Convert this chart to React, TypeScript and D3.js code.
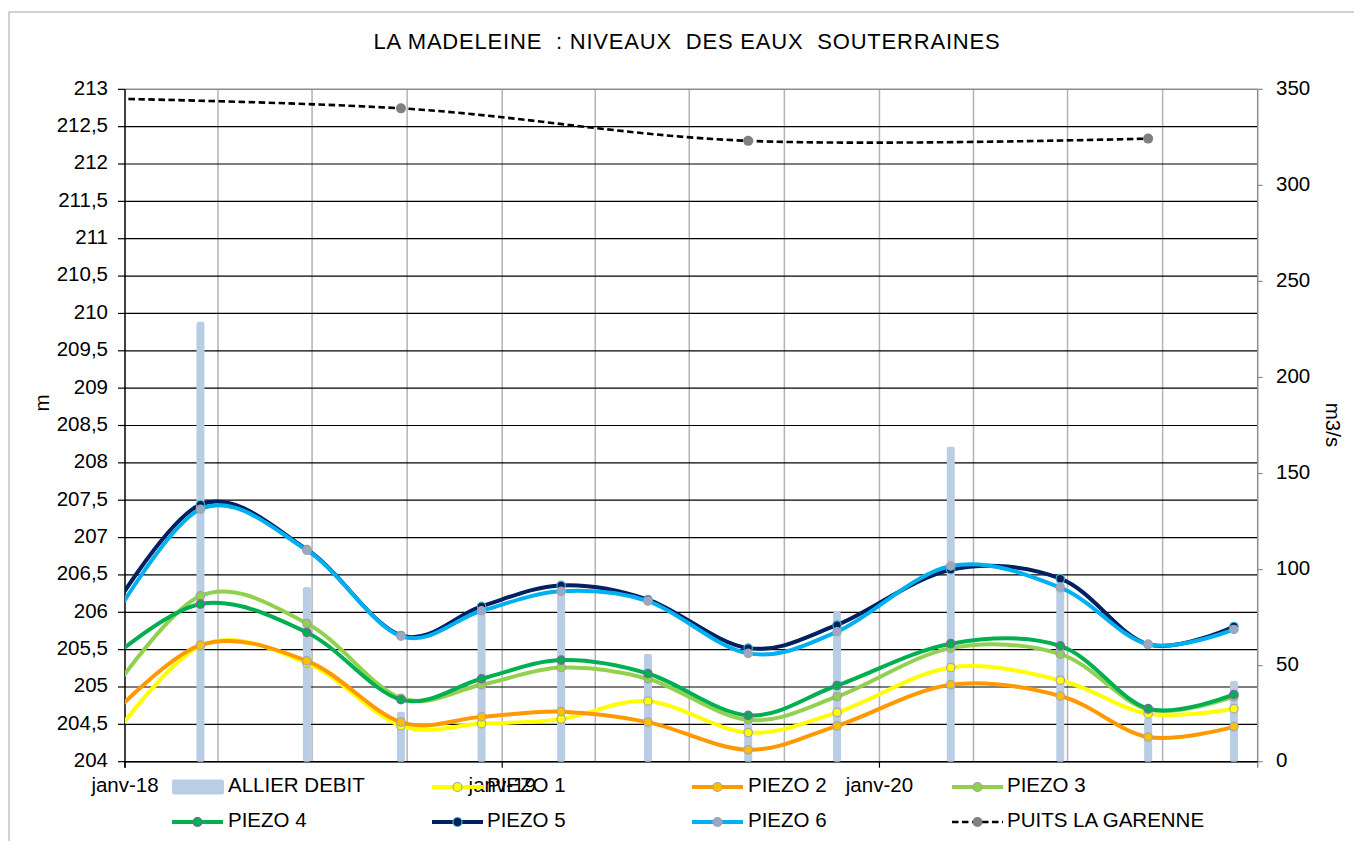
import React from "react";
import * as d3 from "d3";

// ---------- DATA ----------
const measureDates = [
  "2017-12-05", "2018-03-15", "2018-06-26", "2018-09-25", "2018-12-12", "2019-02-27",
  "2019-05-22", "2019-08-27", "2019-11-21", "2020-03-10", "2020-06-24", "2020-09-17", "2020-12-09",
];
const piezo1 = [204.05, 205.55, 205.32, 204.48, 204.51, 204.57, 204.81, 204.39, 204.66, 205.26, 205.09, 204.64, 204.71];
const piezo2 = [204.42, 205.56, 205.35, 204.53, 204.6, 204.67, 204.53, 204.16, 204.48, 205.03, 204.88, 204.33, 204.47];
const piezo3 = [204.65, 206.22, 205.85, 204.85, 205.03, 205.26, 205.11, 204.56, 204.87, 205.52, 205.44, 204.7, 204.87];
const piezo4 = [205.23, 206.11, 205.73, 204.83, 205.11, 205.36, 205.18, 204.62, 205.02, 205.58, 205.55, 204.71, 204.9];
const piezo5 = [205.7, 207.44, 206.84, 205.69, 206.08, 206.36, 206.17, 205.52, 205.83, 206.57, 206.45, 205.57, 205.81];
const piezo6 = [205.55, 207.38, 206.83, 205.68, 206.02, 206.28, 206.15, 205.45, 205.74, 206.62, 206.33, 205.57, 205.77];

const debitDates = [
  "2018-03-15", "2018-06-26", "2018-09-25", "2018-12-12", "2019-02-27", "2019-05-22",
  "2019-08-27", "2019-11-21", "2020-03-10", "2020-06-24", "2020-09-17", "2020-12-09",
];
const allierDebit = [229, 91, 26, 81, 91, 56, 23, 78, 164, 95, 23, 42];

const puitsDates = ["2017-09-20", "2018-09-25", "2019-08-27", "2020-09-17"];
const puitsGarenne = [212.9, 212.745, 212.31, 212.34];

const leftTicks = [204, 204.5, 205, 205.5, 206, 206.5, 207, 207.5, 208, 208.5, 209, 209.5, 210, 210.5, 211, 211.5, 212, 212.5, 213];
const rightTicks = [0, 50, 100, 150, 200, 250, 300, 350];
const xLabelDates = ["2018-01-01", "2019-01-01", "2020-01-01"];
const xLabels = ["janv-18", "janv-19", "janv-20"];

const title = "LA MADELEINE  : NIVEAUX  DES EAUX  SOUTERRAINES";

// ---------- STYLE ----------
const FONT = "'Liberation Sans', Arial, sans-serif";
const L = 125, R = 1257.7, T = 89.3, B = 761.7;
const FS = 20.5;

const series = [
  { name: "PIEZO 1", values: piezo1, stroke: "#ffff00", fill: "#ffff00", mstroke: "#a6a6a6" },
  { name: "PIEZO 2", values: piezo2, stroke: "#ff9900", fill: "#ffc000", mstroke: "#a6a6a6" },
  { name: "PIEZO 3", values: piezo3, stroke: "#92d050", fill: "#92d050", mstroke: "#a0a0a0" },
  { name: "PIEZO 4", values: piezo4, stroke: "#00b050", fill: "#00b050", mstroke: "#8064a2" },
  { name: "PIEZO 5", values: piezo5, stroke: "#002060", fill: "#002060", mstroke: "#4bacc6" },
  { name: "PIEZO 6", values: piezo6, stroke: "#00b0f0", fill: "#98a8c8", mstroke: "#a6a6a6" },
];

const parse = d3.timeParse("%Y-%m-%d");

export default function App() {
  const x = d3.scaleTime().domain([parse("2018-01-01")!, parse("2021-01-01")!]).range([L, R]);
  const yL = d3.scaleLinear().domain([204, 213]).range([B, T]);
  const yR = d3.scaleLinear().domain([0, 350]).range([B, T]);
  const curve = d3.curveCardinal.tension(0);
  const quarterTicks = d3.timeMonth.every(3)!.range(parse("2018-04-01")!, parse("2021-01-01")!);

  const lineGen = (dates: string[]) =>
    d3.line<number>().x((_, i) => x(parse(dates[i])!)).y((v) => yL(v)).curve(curve);

  const fmt = (v: number) => String(v).replace(".", ",");

  const legendRow1Y = 787, legendRow2Y = 822;
  const colSwatch = [172, 432, 692, 952];
  const colText = [228, 487, 748, 1007];

  const legendItems = [
    { kind: "bar" },
    { kind: "line", s: series[0] },
    { kind: "line", s: series[1] },
    { kind: "line", s: series[2] },
    { kind: "line", s: series[3] },
    { kind: "line", s: series[4] },
    { kind: "line", s: series[5] },
    { kind: "puits" },
  ];

  return (
    <svg width={1354} height={841} style={{ position: "absolute", left: 0, top: 0, background: "#fff" }} fontFamily={FONT}>
      <defs>
        <clipPath id="plotclip">
          <rect x={L} y={T - 10} width={R - L} height={B - T + 10} />
        </clipPath>
      </defs>
      {/* chart border */}
      <rect x={9} y={12} width={1400} height={900} fill="none" stroke="#a6a6a6" strokeWidth={1} />

      {/* title */}
      <text x={687} y={49} textAnchor="middle" fontSize={22} letterSpacing={0.8} style={{ whiteSpace: "pre" }}>{title}</text>

      {/* vertical gridlines */}
      {quarterTicks.map((d, i) => (
        <line key={"vg" + i} x1={x(d)} x2={x(d)} y1={T} y2={B} stroke="#b3b3b3" strokeWidth={1.5} />
      ))}
      {/* horizontal gridlines */}
      {leftTicks.map((v, i) => (
        <line key={"hg" + i} x1={L} x2={R} y1={yL(v)} y2={yL(v)} stroke={v === 213 ? "#8c8c8c" : "#000"} strokeWidth={v === 213 ? 1.5 : 1.2} />
      ))}
      {/* right axis line */}
      <line x1={R} x2={R} y1={T} y2={B + 6} stroke="#8c8c8c" strokeWidth={1.5} />
      {rightTicks.map((v, i) => (
        <g key={"rt" + i}>
          <line x1={R} x2={R + 5} y1={yR(v)} y2={yR(v)} stroke="#8c8c8c" strokeWidth={1.2} />
          <text x={1276} y={yR(v)} dominantBaseline="middle" fontSize={FS}>{v}</text>
        </g>
      ))}
      {/* left axis */}
      <line x1={L} x2={L} y1={T} y2={B + 6} stroke="#000" strokeWidth={1.5} />
      {leftTicks.map((v, i) => (
        <g key={"lt" + i}>
          <line x1={L - 7} x2={L} y1={yL(v)} y2={yL(v)} stroke="#000" strokeWidth={1.2} />
          <text x={108} y={yL(v)} dominantBaseline="middle" textAnchor="end" fontSize={FS}>{fmt(v)}</text>
        </g>
      ))}
      {/* bottom axis */}
      <line x1={L} x2={R} y1={B} y2={B} stroke="#000" strokeWidth={1.5} />
      {xLabelDates.map((d, i) => (
        <line key={"bt" + i} x1={x(parse(d)!)} x2={x(parse(d)!)} y1={B} y2={B + 6} stroke="#000" strokeWidth={1.2} />
      ))}

      {/* bars (right axis) */}
      {allierDebit.map((v, i) => {
        const cx = x(parse(debitDates[i])!);
        return <rect key={"b" + i} x={cx - 4} y={yR(v)} width={8} height={B - yR(v)} rx={2} fill="#b9cde5" />;
      })}

      {/* piezo lines */}
      <g clipPath="url(#plotclip)">
        {series.map((s, si) => (
          <g key={"s" + si}>
            <path d={lineGen(measureDates)(s.values) || ""} fill="none" stroke={s.stroke} strokeWidth={4} strokeLinejoin="round" />
            {s.values.map((v, i) => (
              <circle key={i} cx={x(parse(measureDates[i])!)} cy={yL(v)} r={4.2} fill={s.fill} stroke={s.mstroke} strokeWidth={1.2} />
            ))}
          </g>
        ))}
        {/* puits */}
        <path d={lineGen(puitsDates)(puitsGarenne) || ""} fill="none" stroke="#000" strokeWidth={2.6} strokeDasharray="6.5,3.5" />
        {puitsGarenne.map((v, i) => (
          <circle key={"p" + i} cx={x(parse(puitsDates[i])!)} cy={yL(v)} r={5} fill="#808080" />
        ))}
      </g>

      {/* x labels */}
      {xLabelDates.map((d, i) => (
        <text key={"xl" + i} x={x(parse(d)!)} y={legendRow1Y} dominantBaseline="middle" textAnchor="middle" fontSize={FS}>{xLabels[i]}</text>
      ))}

      {/* axis titles */}
      <text transform="translate(49,403) rotate(-90)" textAnchor="middle" fontSize={FS}>m</text>
      <text transform="translate(1326,425) rotate(90)" textAnchor="middle" fontSize={FS}>m3/s</text>

      {/* legend */}
      {legendItems.map((it: any, k) => {
        const row = k < 4 ? 0 : 1;
        const col = k % 4;
        const cy = row === 0 ? legendRow1Y : legendRow2Y;
        const sx = colSwatch[col];
        let sw: React.ReactNode = null;
        let label = "";
        if (it.kind === "bar") {
          sw = <rect x={sx} y={cy - 7.5} width={52} height={15} rx={2} fill="#b9cde5" />;
          label = "ALLIER DEBIT";
        } else if (it.kind === "line") {
          sw = (
            <g>
              <line x1={sx} x2={sx + 51} y1={cy} y2={cy} stroke={it.s.stroke} strokeWidth={4} />
              <circle cx={sx + 25.5} cy={cy} r={4.5} fill={it.s.fill} stroke={it.s.mstroke} strokeWidth={1.2} />
            </g>
          );
          label = it.s.name;
        } else {
          sw = (
            <g>
              <line x1={sx} x2={sx + 51} y1={cy} y2={cy} stroke="#000" strokeWidth={2.6} strokeDasharray="6.5,3.5" />
              <circle cx={sx + 25.5} cy={cy} r={5} fill="#808080" />
            </g>
          );
          label = "PUITS LA GARENNE";
        }
        return (
          <g key={"lg" + k}>
            {sw}
            <text x={colText[col]} y={cy} dominantBaseline="middle" fontSize={FS}>{label}</text>
          </g>
        );
      })}
    </svg>
  );
}
